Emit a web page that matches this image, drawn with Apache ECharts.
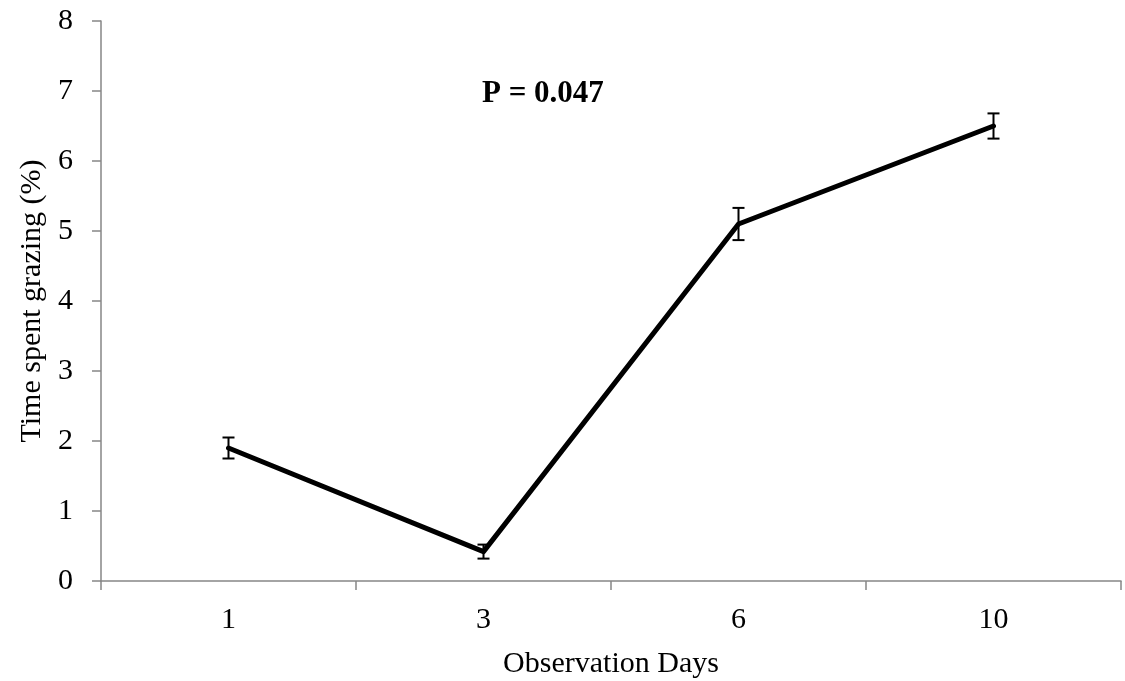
<!DOCTYPE html>
<html>
<head>
<meta charset="utf-8">
<script src="https://cdn.jsdelivr.net/npm/echarts@6/dist/echarts.min.js"></script>
<style>html,body{margin:0;padding:0;background:#fff}#c{width:1125px;height:681px}</style>
</head>
<body>
<div id="c"></div>
<script>
const days = ['1', '3', '6', '10'];
const means = [1.9, 0.42, 5.1, 6.5];
const errors = [0.15, 0.1, 0.23, 0.18];
const yTicks = { min: 0, max: 8, interval: 1 };
const annotation = 'P = 0.047';

const chart = echarts.init(document.getElementById('c'));
const font = 'Liberation Serif, Times New Roman, serif';
const errData = days.map((d, i) => [i, means[i] - errors[i], means[i] + errors[i]]);

chart.setOption({
  animation: false,
  backgroundColor: '#fff',
  grid: { left: 101, right: 4, top: 21, bottom: 100, containLabel: false, outerBoundsMode: 'none' },
  xAxis: {
    type: 'category',
    data: days,
    boundaryGap: true,
    name: 'Observation Days',
    nameLocation: 'middle',
    nameGap: 68,
    nameTextStyle: { fontFamily: font, fontSize: 30, color: '#000' },
    axisLine: { lineStyle: { color: '#868686', width: 1.5 } },
    axisTick: { show: true, length: 9, interval: 0, lineStyle: { color: '#868686', width: 1.5 } },
    axisLabel: { fontFamily: font, fontSize: 30, color: '#000', margin: 24 },
    splitLine: { show: false }
  },
  yAxis: {
    type: 'value',
    min: yTicks.min, max: yTicks.max, interval: yTicks.interval,
    name: 'Time spent grazing (%)',
    nameLocation: 'middle',
    nameGap: 52,
    nameTextStyle: { fontFamily: font, fontSize: 30, color: '#000' },
    axisLine: { show: true, lineStyle: { color: '#868686', width: 1.5 } },
    axisTick: { show: true, length: 9, lineStyle: { color: '#868686', width: 1.5 } },
    axisLabel: { fontFamily: font, fontSize: 30, color: '#000', margin: 28 },
    splitLine: { show: false }
  },
  graphic: [{
    type: 'text',
    x: 482, y: 93.5,
    style: { text: annotation, font: 'bold 31px ' + font, fill: '#000', textAlign: 'left', textVerticalAlign: 'middle' }
  }],
  series: [
    {
      type: 'custom',
      data: errData,
      z: 1,
      renderItem: function (params, api) {
        const x = api.value(0);
        const lo = api.coord([x, api.value(1)]);
        const hi = api.coord([x, api.value(2)]);
        const hw = 6;
        const st = { stroke: '#000', lineWidth: 2 };
        return {
          type: 'group',
          children: [
            { type: 'line', shape: { x1: lo[0], y1: lo[1], x2: hi[0], y2: hi[1] }, style: st },
            { type: 'line', shape: { x1: lo[0] - hw, y1: lo[1], x2: lo[0] + hw, y2: lo[1] }, style: st },
            { type: 'line', shape: { x1: hi[0] - hw, y1: hi[1], x2: hi[0] + hw, y2: hi[1] }, style: st }
          ]
        };
      }
    },
    {
      type: 'line',
      data: means,
      z: 2,
      symbol: 'none',
      lineStyle: { color: '#000', width: 5, cap: 'round', join: 'round' }
    }
  ]
});
</script>
</body>
</html>
